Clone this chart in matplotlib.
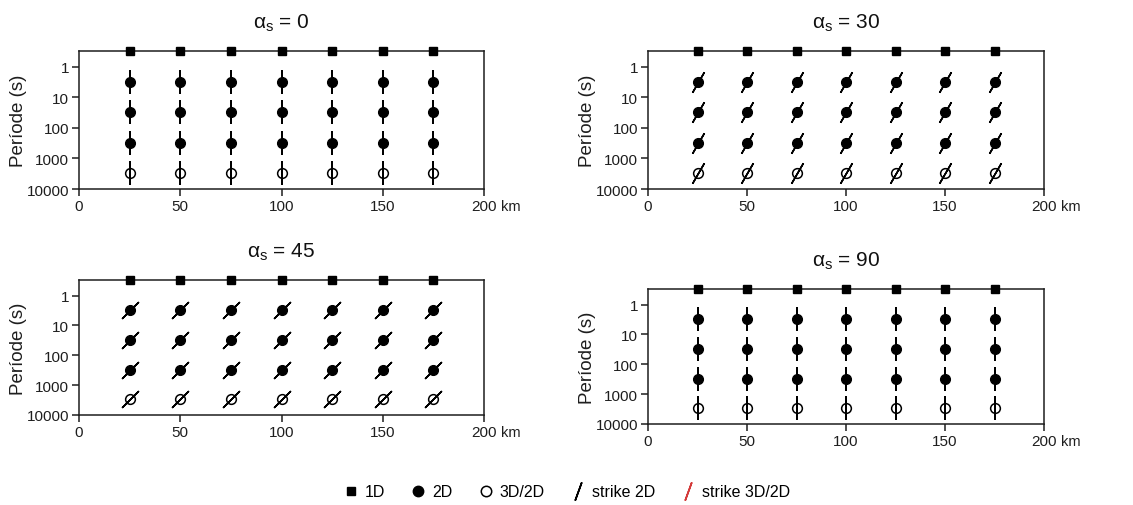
import matplotlib
matplotlib.use("Agg")
import matplotlib.pyplot as plt
from matplotlib.lines import Line2D
from matplotlib.ticker import FixedLocator, NullLocator

plt.rcParams["font.family"] = ["Liberation Sans", "DejaVu Sans"]
plt.rcParams["mathtext.fontset"] = "custom"
plt.rcParams["mathtext.rm"] = "Liberation Sans"

# Stations along the profile (km) and the period bands tested (s)
distances = [25, 50, 75, 100, 125, 150, 175]
period_1d = 0.3
periods_2d = [3, 30, 300]
periods_3d2d = [3000]

# Strike angle of the regional structure in each panel and the strike drawn
alphas = [0, 30, 45, 90]
strike_drawn = [0, 30, 45, 0]

x_ticks = [0, 50, 100, 150, 200]
x_ticklabels = ["0", "50", "100", "150", "200"]
y_ticks = [1, 10, 100, 1000, 10000]
y_ticklabels = ["1", "10", "100", "1000", "10000"]

W, H = 1133, 506
fig = plt.figure(figsize=(W / 100, H / 100), dpi=100)


def frac(x0, y0, x1, y1):
    return [x0 / W, 1 - y1 / H, (x1 - x0) / W, (y1 - y0) / H]


boxes = [
    frac(79, 52, 484, 190),
    frac(648, 52, 1044, 190),
    frac(79, 281, 484, 416),
    frac(648, 290, 1044, 425),
]

ink = "#1e1e1e"

for box, alpha, ang in zip(boxes, alphas, strike_drawn):
    ax = fig.add_axes(box)
    ax.set_yscale("log")
    ax.set_xlim(0, 200)
    ax.set_ylim(10000, period_1d)

    strike = (2, 2, -ang)
    for p in periods_2d + periods_3d2d:
        ax.plot(distances, [p] * len(distances), ls="none", marker=strike,
                ms=17, mew=1.15, color="black", zorder=2, clip_on=False)
    for p in periods_2d:
        ax.plot(distances, [p] * len(distances), ls="none", marker="o",
                ms=7, color="black", zorder=3)
    for p in periods_3d2d:
        ax.plot(distances, [p] * len(distances), ls="none", marker="o",
                ms=7, mfc="none", mec="black", mew=1.1, zorder=3)
    ax.plot(distances, [period_1d] * len(distances), ls="none", marker="s",
            ms=6, color="black", zorder=4, clip_on=False)

    for s in ax.spines.values():
        s.set_linewidth(1.1)
        s.set_color(ink)
    ax.xaxis.set_major_locator(FixedLocator(x_ticks))
    ax.set_xticklabels(x_ticklabels)
    ax.yaxis.set_major_locator(FixedLocator(y_ticks))
    ax.set_yticklabels(y_ticklabels)
    ax.yaxis.set_minor_locator(NullLocator())
    ax.tick_params(direction="out", length=5, width=1.1, labelsize=11,
                   colors=ink, pad=2)
    ax.annotate("km", xy=(1, 0), xycoords="axes fraction", xytext=(12, -7),
                textcoords="offset points", ha="left", va="top",
                fontsize=10.5, color=ink)
    ax.set_ylabel("Període (s)", fontsize=13.5, color=ink, labelpad=0)
    ax.set_title(r"α$_{\mathregular{s}}$ = %d" % alpha, fontsize=15, pad=17,
                 color="#111111")

handles = [
    Line2D([], [], ls="none", marker="s", ms=6, color="black"),
    Line2D([], [], ls="none", marker="o", ms=7.5, color="black"),
    Line2D([], [], ls="none", marker="o", ms=7.5, mfc="none", mec="black", mew=1.1),
    Line2D([], [], ls="none", marker=(2, 2, -20), ms=14, mew=1.2, color="black"),
    Line2D([], [], ls="none", marker=(2, 2, -20), ms=14, mew=1.2, color="#d43a3a"),
]
labels = ["1D", "2D", "3D/2D", "strike 2D", "strike 3D/2D"]
fig.legend(handles, labels, loc="center", bbox_to_anchor=(0.5, 0.026), ncol=5,
           frameon=False, fontsize=11.5, handlelength=1.0, handletextpad=0.35,
           columnspacing=1.6)

fig.savefig("out.png", dpi=100)
